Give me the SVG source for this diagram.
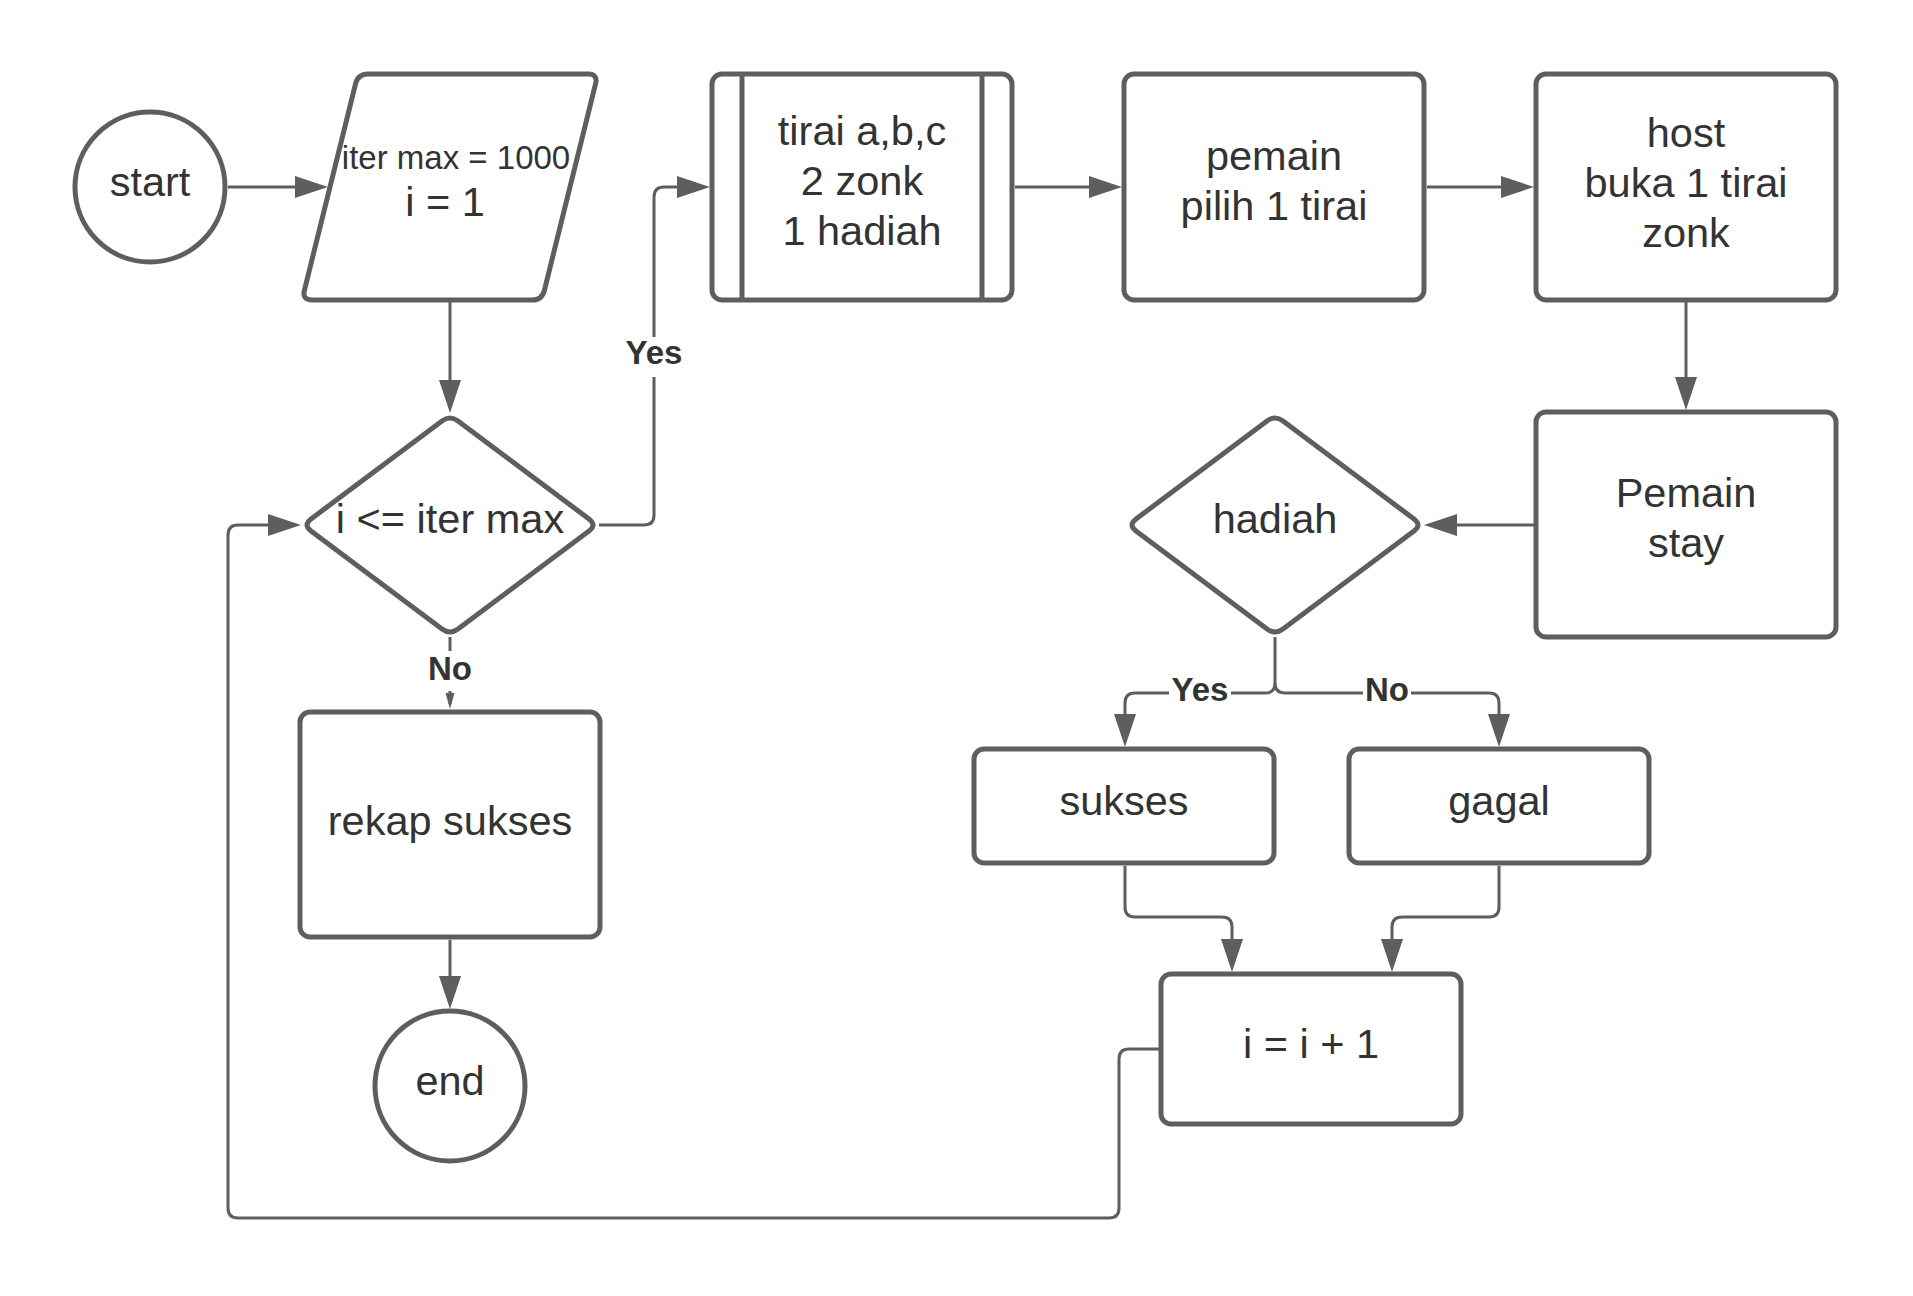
<svg xmlns="http://www.w3.org/2000/svg" width="1913" height="1296" viewBox="0 0 1913 1296">
<style>
.n{fill:#ffffff;stroke:#5e5e5e;stroke-width:5;}
.c{fill:none;stroke:#5e5e5e;stroke-width:3;}
.t{font-family:"Liberation Sans",Arial,sans-serif;font-size:41.5px;fill:#333333;text-anchor:middle;}
.s{font-size:33px;}
.l{font-family:"Liberation Sans",Arial,sans-serif;font-size:33px;font-weight:bold;fill:#333333;text-anchor:middle;}
.bg{fill:#ffffff;stroke:none;}
</style>
<defs>
<marker id="arr" markerUnits="userSpaceOnUse" markerWidth="34" markerHeight="22" refX="23" refY="11" orient="auto" overflow="visible">
<path d="M0,0 L33,11 L0,22 Z" fill="#5e5e5e"/>
</marker>
<marker id="arrs" markerUnits="userSpaceOnUse" markerWidth="16" markerHeight="9" refX="11" refY="4.5" orient="auto" overflow="visible">
<path d="M0,0 L16,4.5 L0,9 Z" fill="#5e5e5e"/>
</marker>
</defs>
<rect width="1913" height="1296" fill="#ffffff"/>
<g id="connectors">
<path class="c" d="M228,187 L318,187" marker-end="url(#arr)"/>
<path class="c" d="M450,302 L450,403" marker-end="url(#arr)"/>
<path class="c" d="M599,525 L644,525 Q654,525 654,515 L654,197 Q654,187 664,187 L700,187" marker-end="url(#arr)"/>
<rect class="bg" x="622" y="337" width="64" height="40"/>
<text class="l" x="654" y="364">Yes</text>
<path class="c" d="M1015,187 L1112,187" marker-end="url(#arr)"/>
<path class="c" d="M1427,187 L1524,187" marker-end="url(#arr)"/>
<path class="c" d="M1686,302 L1686,400" marker-end="url(#arr)"/>
<path class="c" d="M1534,525 L1434,525" marker-end="url(#arr)"/>
<path class="c" d="M450,637 L450,704" marker-end="url(#arrs)"/>
<rect class="bg" x="424" y="651" width="52" height="40"/>
<text class="l" x="450" y="680">No</text>
<path class="c" d="M450,940 L450,999" marker-end="url(#arr)"/>
<path class="c" d="M1275,637 L1275,683 Q1275,693 1265,693 L1135,693 Q1125,693 1125,703 L1125,737" marker-end="url(#arr)"/>
<path class="c" d="M1275,683 Q1275,693 1285,693 L1489,693 Q1499,693 1499,703 L1499,737" marker-end="url(#arr)"/>
<rect class="bg" x="1169" y="676" width="62" height="30"/>
<text class="l" x="1200" y="701">Yes</text>
<rect class="bg" x="1363" y="676" width="48" height="30"/>
<text class="l" x="1387" y="701">No</text>
<path class="c" d="M1125,866 L1125,907 Q1125,917 1135,917 L1222,917 Q1232,917 1232,927 L1232,962" marker-end="url(#arr)"/>
<path class="c" d="M1499,866 L1499,907 Q1499,917 1489,917 L1402,917 Q1392,917 1392,927 L1392,962" marker-end="url(#arr)"/>
<path class="c" d="M1159,1049 L1129,1049 Q1119,1049 1119,1059 L1119,1208 Q1119,1218 1109,1218 L238,1218 Q228,1218 228,1208 L228,535 Q228,525 238,525 L291,525" marker-end="url(#arr)"/>
</g>
<g id="start">
<circle class="n" cx="150" cy="187" r="75"/>
<text class="t" x="150" y="196">start</text>
</g>
<g id="init">
<path class="n" d="M368,74 L588,74 Q598,74 595.6,83.7 L544.4,290.3 Q542,300 532,300 L312,300 Q302,300 304.4,290.3 L355.6,83.7 Q358,74 368,74 Z"/>
<text class="t s" x="456" y="169">iter max = 1000</text>
<text class="t" x="445" y="216">i = 1</text>
</g>
<g id="tirai">
<rect class="n" x="712" y="74" width="300" height="226" rx="10"/>
<line class="n" x1="742" y1="74" x2="742" y2="300"/>
<line class="n" x1="982" y1="74" x2="982" y2="300"/>
<text class="t" x="862" y="145">tirai a,b,c</text>
<text class="t" x="862" y="195">2 zonk</text>
<text class="t" x="862" y="245">1 hadiah</text>
</g>
<g id="pemain">
<rect class="n" x="1124" y="74" width="300" height="226" rx="10"/>
<text class="t" x="1274" y="170">pemain</text>
<text class="t" x="1274" y="220">pilih 1 tirai</text>
</g>
<g id="host">
<rect class="n" x="1536" y="74" width="300" height="226" rx="10"/>
<text class="t" x="1686" y="147">host</text>
<text class="t" x="1686" y="197">buka 1 tirai</text>
<text class="t" x="1686" y="247">zonk</text>
</g>
<g id="stay">
<rect class="n" x="1536" y="412" width="300" height="225" rx="10"/>
<text class="t" x="1686" y="507">Pemain</text>
<text class="t" x="1686" y="557">stay</text>
</g>
<g id="hadiah">
<path class="n" d="M1283,421 L1414,519 Q1422,525 1414,531 L1283,629 Q1275,635 1267,629 L1136,531 Q1128,525 1136,519 L1267,421 Q1275,415 1283,421 Z"/>
<text class="t" x="1275" y="533">hadiah</text>
</g>
<g id="cond">
<path class="n" d="M458,421 L589,519 Q597,525 589,531 L458,629 Q450,635 442,629 L311,531 Q303,525 311,519 L442,421 Q450,415 458,421 Z"/>
<text class="t" x="450" y="533">i &lt;= iter max</text>
</g>
<g id="rekap">
<rect class="n" x="300" y="712" width="300" height="225" rx="10"/>
<text class="t" x="450" y="835">rekap sukses</text>
</g>
<g id="end">
<circle class="n" cx="450" cy="1086" r="75"/>
<text class="t" x="450" y="1095">end</text>
</g>
<g id="sukses">
<rect class="n" x="974" y="749" width="300" height="114" rx="10"/>
<text class="t" x="1124" y="815">sukses</text>
</g>
<g id="gagal">
<rect class="n" x="1349" y="749" width="300" height="114" rx="10"/>
<text class="t" x="1499" y="815">gagal</text>
</g>
<g id="increment">
<rect class="n" x="1161" y="974" width="300" height="150" rx="10"/>
<text class="t" x="1311" y="1058">i = i + 1</text>
</g>
</svg>
